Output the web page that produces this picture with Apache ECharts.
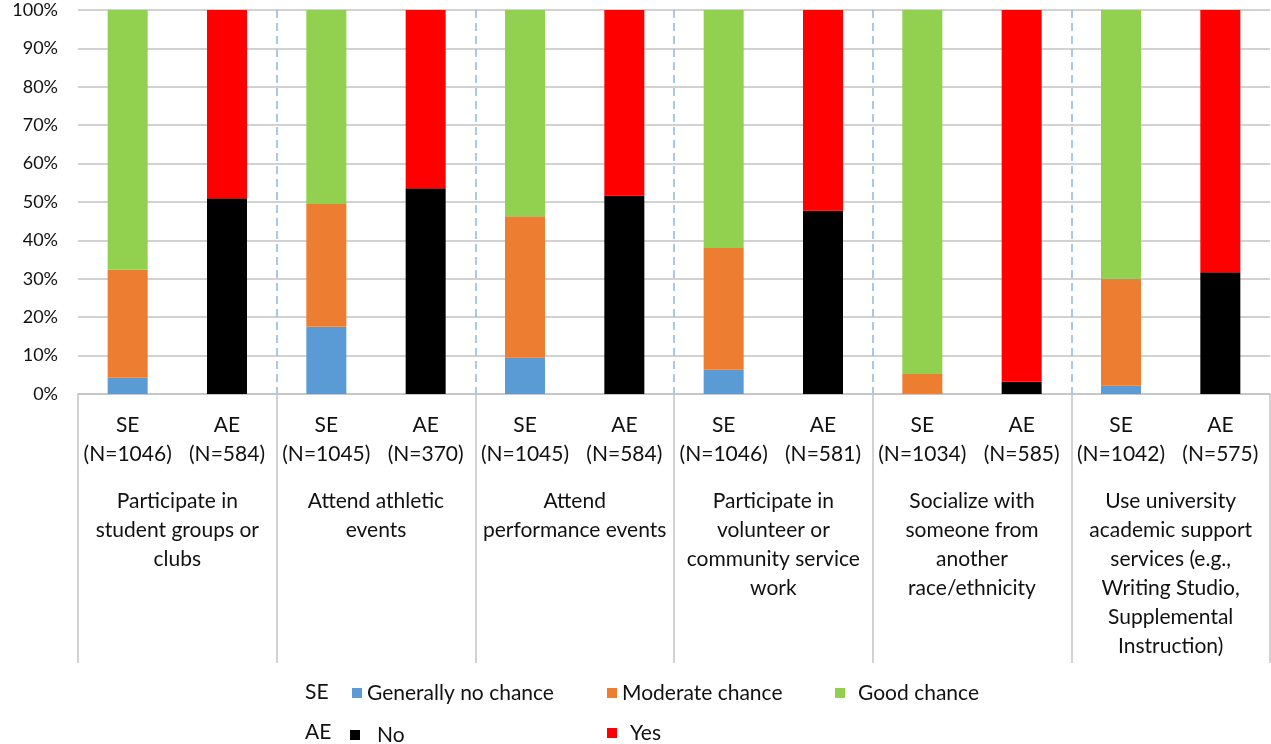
<!DOCTYPE html>
<html>
<head>
<meta charset="utf-8">
<script src="https://cdn.jsdelivr.net/npm/echarts@6/dist/echarts.min.js"></script>
<style>
  html, body { margin: 0; padding: 0; background: #fff; }
  #chart { width: 1271px; height: 744px; }
</style>
</head>
<body>
<div id="chart"></div>
<script>
// Activities and sample sizes for each respondent group
const activities = [
  'Participate in\nstudent groups or\nclubs',
  'Attend athletic\nevents',
  'Attend\nperformance events',
  'Participate in\nvolunteer or\ncommunity service\nwork',
  'Socialize with\nsomeone from\nanother\nrace/ethnicity',
  'Use university\nacademic support\nservices (e.g.,\nWriting Studio,\nSupplemental\nInstruction)'
];
const seN = [1046, 1045, 1045, 1046, 1034, 1042];
const aeN = [584, 370, 584, 581, 585, 575];

// SE responses (percent)
const seNoChance = [4.2, 17.6, 9.6, 6.3, 0.2, 2.3];
const seModerate = [28.2, 32.1, 36.7, 31.9, 5.0, 27.8];
const seGood     = [67.6, 50.3, 53.7, 61.8, 94.8, 69.9];
// AE responses (percent)
const aeNo  = [51.0, 53.6, 51.7, 47.8, 3.2, 31.7];
const aeYes = [49.0, 46.4, 48.3, 52.2, 96.8, 68.3];

const yTicks = [0, 10, 20, 30, 40, 50, 60, 70, 80, 90, 100];

// Two bars per activity: SE then AE
const barLabels = [];
activities.forEach((a, i) => {
  barLabels.push('SE\n(N=' + seN[i] + ')');
  barLabels.push('AE\n(N=' + aeN[i] + ')');
});
const onSE = arr => arr.flatMap(v => [v, null]);
const onAE = arr => arr.flatMap(v => [null, v]);

const FONT = 'Lato';
const TXT = '#111';
const GRID_GRAY = '#c3c3c3';
const FS = 21;

const chart = echarts.init(document.getElementById('chart'), null, { renderer: 'canvas' });

function barSeries(name, data, color) {
  return {
    name, type: 'bar', stack: 'total', xAxisIndex: 0, yAxisIndex: 0,
    data, barWidth: 40, itemStyle: { color }, emphasis: { disabled: true }
  };
}

function legendAt(name, left, top, textPad) {
  return {
    data: [name], left, top, padding: 0,
    icon: 'rect', itemWidth: 10, itemHeight: 10,
    selectedMode: false,
    textStyle: { fontFamily: FONT, fontSize: FS, color: TXT, lineHeight: 22, padding: textPad || 0 }
  };
}

chart.setOption({
  animation: false,
  grid: { left: 78, right: 1, top: 10, bottom: 350, containLabel: false },
  xAxis: [
    {
      type: 'category', data: barLabels, position: 'bottom',
      axisLine: { lineStyle: { color: GRID_GRAY, width: 1.5 } },
      axisTick: { show: false },
      axisLabel: { interval: 0, margin: 17, fontFamily: FONT, fontSize: FS, lineHeight: 29, color: TXT }
    },
    {
      type: 'category', data: activities, position: 'bottom',
      axisLine: { show: false },
      axisTick: { show: true, length: 269, lineStyle: { color: GRID_GRAY, width: 1.5 } },
      axisLabel: { interval: 0, margin: 93, fontFamily: FONT, fontSize: FS, lineHeight: 29, color: TXT },
      splitLine: { show: false }
    },
    {
      type: 'value', min: 0, max: 6, interval: 1, position: 'top',
      axisLine: { show: false }, axisTick: { show: false }, axisLabel: { show: false },
      splitLine: {
        show: true, showMinLine: false, showMaxLine: false,
        lineStyle: { color: '#8fb8e0', width: 1.5, type: [8, 5] }
      }
    }
  ],
  yAxis: {
    type: 'value', min: yTicks[0], max: yTicks[yTicks.length - 1], interval: 10,
    axisLine: { show: false }, axisTick: { show: false },
    axisLabel: { formatter: '{value}%', fontFamily: FONT, fontSize: 18, color: TXT, margin: 20 },
    splitLine: { lineStyle: { color: GRID_GRAY, width: 1.5 } }
  },
  legend: [
    legendAt('Generally no chance', 352, 682),
    legendAt('Moderate chance', 607, 682),
    legendAt('Good chance', 835, 682, [0, 0, 0, 8]),
    legendAt('No', 350, 720, [8, 0, 0, 12]),
    legendAt('Yes', 607, 722, [0, 0, 0, 8])
  ],
  graphic: [
    { type: 'text', left: 305, top: 682, style: { text: 'SE', font: FS + 'px ' + FONT, fill: TXT } },
    { type: 'text', left: 305, top: 722, style: { text: 'AE', font: FS + 'px ' + FONT, fill: TXT } }
  ],
  series: [
    barSeries('Generally no chance', onSE(seNoChance), '#5b9bd5'),
    barSeries('Moderate chance', onSE(seModerate), '#ed7d31'),
    barSeries('Good chance', onSE(seGood), '#92d050'),
    barSeries('No', onAE(aeNo), '#000000'),
    barSeries('Yes', onAE(aeYes), '#ff0000')
  ]
});
</script>
</body>
</html>
